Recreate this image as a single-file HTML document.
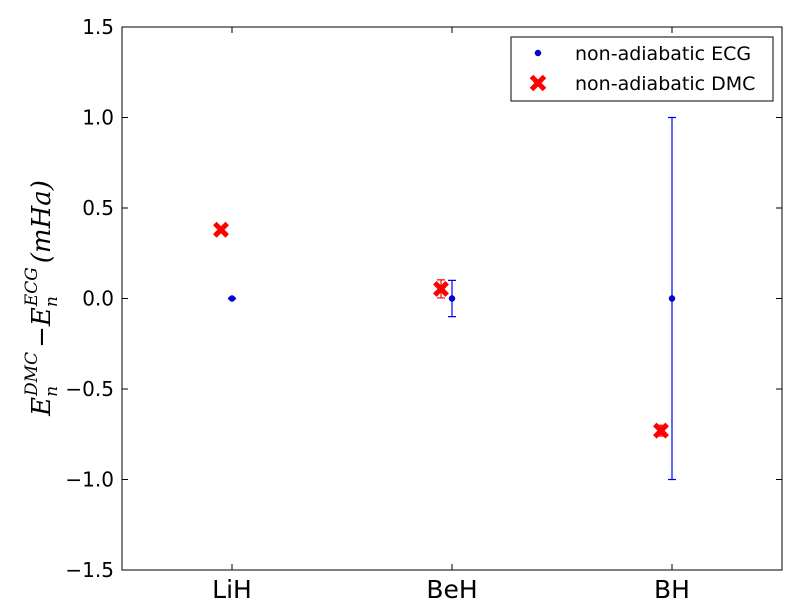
<!DOCTYPE html>
<html><head><meta charset="utf-8"><style>
body{margin:0;background:#fff;}
svg{display:block;font-family:"DejaVu Sans","Liberation Sans",sans-serif;}
</style></head><body>
<svg id="chart" width="812" height="612"></svg>
<script>
const categories=["LiH","BeH","BH"];
const ecgValues=[0,0,0];
const ecgErrors=[0.002,0.1,1.0];
const dmcValues=[0.38,0.053,-0.73];
const dmcErrors=[0.01,0.05,0.03];
const dmcOffset=-0.05;
const yTicks=[-1.5,-1.0,-0.5,0.0,0.5,1.0,1.5];
const yTickLabels=["\u22121.5","\u22121.0","\u22120.5","0.0","0.5","1.0","1.5"];

const L=122,R=782,T=27,B=570;
const xs=v=>L+(v+0.5)*(R-L)/3;
const ys=v=>B-(v+1.5)*(B-T)/3;
const NS="http://www.w3.org/2000/svg";
const svg=document.getElementById('chart');
function mk(tag,attrs,parent){const e=document.createElementNS(NS,tag);for(const k in attrs)e.setAttribute(k,attrs[k]);(parent||svg).appendChild(e);return e;}

const frame=mk('rect',{x:L,y:T,width:R-L,height:B-T,fill:'none',stroke:'#000','stroke-width':1});



yTicks.forEach((t,i)=>{
  const y=ys(t);
  const tk=mk('path',{d:`M${L} ${y}h6M${R} ${y}h-6`,stroke:'#000'});
  
  
  const tx=mk('text',{x:L-8,y:y+7,'text-anchor':'end','font-size':20});
  tx.textContent=yTickLabels[i];
  
  
});
categories.forEach((c,i)=>{
  const x=xs(i);
  const tk=mk('path',{d:`M${x} ${B}v-6M${x} ${T}v6`,stroke:'#000'});
  
  
  const tx=mk('text',{x:x,y:598,'text-anchor':'middle','font-size':25});
  tx.textContent=c;
  
  
});

categories.forEach((c,i)=>{
  const x=xs(i),y=ys(ecgValues[i]),y1=ys(ecgValues[i]+ecgErrors[i]),y2=ys(ecgValues[i]-ecgErrors[i]);
  const eb=mk('path',{d:`M${x} ${y1}V${y2}M${x-4} ${y1}h8M${x-4} ${y2}h8`,stroke:'#0000ff','stroke-width':1.2,fill:'none'});
  
  
  const p=mk('circle',{cx:x,cy:y,r:3,fill:'#0000ff',stroke:'#000','stroke-width':0.5});
  
  
});
function cross(x,y,s){return `M${x-s} ${y-s}L${x+s} ${y+s}M${x-s} ${y+s}L${x+s} ${y-s}`;}
categories.forEach((c,i)=>{
  const x=xs(i+dmcOffset),y=ys(dmcValues[i]),y1=ys(dmcValues[i]+dmcErrors[i]),y2=ys(dmcValues[i]-dmcErrors[i]);
  const eb=mk('path',{d:`M${x} ${y1}V${y2}M${x-4} ${y1}h8M${x-4} ${y2}h8`,stroke:'#ff0000','stroke-width':1.2,fill:'none'});
  
  
  const p=mk('path',{d:cross(x,y,6.2),stroke:'#ff0000','stroke-width':5,'stroke-linecap':'butt'});
  
  
});

const lg=mk('g',{});


mk('rect',{x:511,y:37,width:262,height:64,fill:'#fff',stroke:'#000'},lg);
const e1=mk('circle',{cx:538,cy:53,r:3,fill:'#0000ff',stroke:'#000','stroke-width':0.5},lg);


const t1=mk('text',{x:575,y:60,'font-size':19},lg);t1.textContent='non-adiabatic ECG';


const e2=mk('path',{d:cross(538,83,6.5),stroke:'#ff0000','stroke-width':5},lg);


const t2=mk('text',{x:575,y:90,'font-size':19},lg);t2.textContent='non-adiabatic DMC';



const yt=mk('text',{transform:'translate(50,298) rotate(-90)','text-anchor':'middle','font-size':26,'font-family':'"DejaVu Serif","Liberation Serif",serif','font-style':'italic'});
yt.innerHTML='E<tspan font-size="17" dy="7">n</tspan><tspan font-size="17" dx="-10" dy="-20">DMC</tspan><tspan dx="4" dy="13">\u2212E</tspan><tspan font-size="17" dy="7">n</tspan><tspan font-size="17" dx="-10" dy="-20">ECG</tspan><tspan dx="4" dy="13">(mHa)</tspan>';


</script>
</body></html>
